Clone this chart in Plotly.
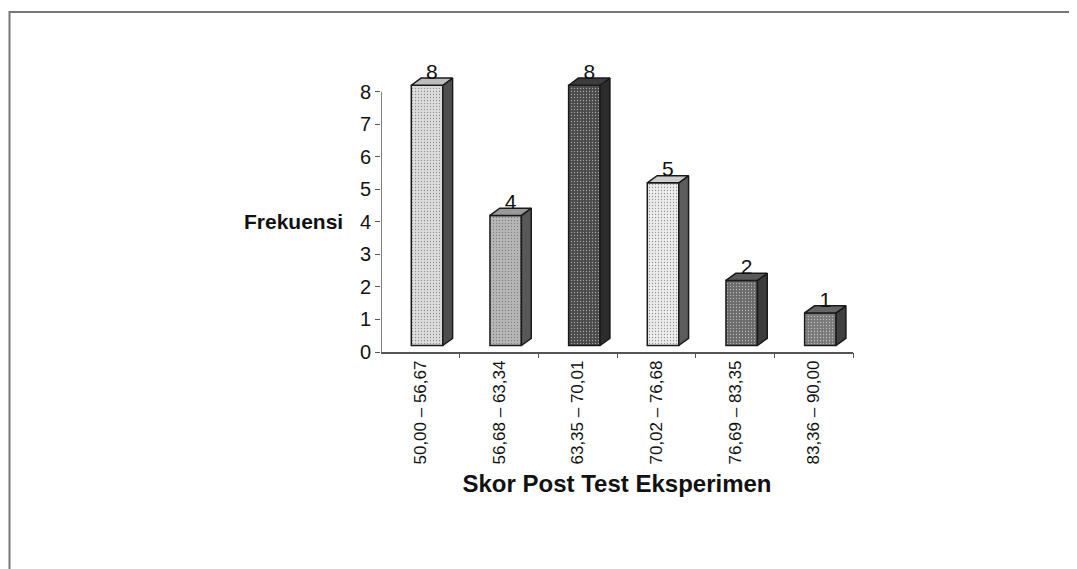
import plotly.graph_objects as go

# ---- data ----
categories = ["50,00 – 56,67", "56,68 – 63,34", "63,35 – 70,01",
              "70,02 – 76,68", "76,69 – 83,35", "83,36 – 90,00"]
frequencies = [8, 4, 8, 5, 2, 1]
y_ticks = [0, 1, 2, 3, 4, 5, 6, 7, 8]
x_title = "Skor Post Test Eksperimen"
y_title = "Frekuensi"

# ---- style ----
front_colors = ["#dcdcdc", "#b7b7b7", "#4a4a4a", "#ebebeb", "#6b6b6b", "#7a7a7a"]
side_colors = ["#4e4e4e", "#585858", "#2c2c2c", "#5c5c5c", "#3c3c3c", "#404040"]
top_colors = ["#bdbdbd", "#9a9a9a", "#3c3c3c", "#cdcdcd", "#5a5a5a", "#666666"]
FONT = "Liberation Sans, Arial, sans-serif"
BASE = 0.2          # floor offset of 3D bars
BAR_W = 0.40        # front face width (category units)
BAR_OFF = 0.585     # front face centre within category
DX, DY = 0.125, 0.22  # 3D depth offsets
OUT = "#1a1a1a"

W, H = 1069, 561
ML, MR, MT, MB = 373, 224, 61, 217
PW, PH = W - ML - MR, H - MT - MB

fig = go.Figure()

n = len(categories)
xc = [i + BAR_OFF for i in range(n)]

# front faces
fig.add_trace(go.Bar(
    x=xc, y=frequencies, base=[BASE] * n, width=BAR_W,
    marker=dict(color=front_colors, line=dict(color=OUT, width=1.5),
                pattern=dict(shape=".", size=3, solidity=0.15,
                             fgcolor="rgba(0,0,0,0.25)", fillmode="overlay")),
    hoverinfo="skip", showlegend=False))

# side and top faces computed from the values
for i, v in enumerate(frequencies):
    x0 = xc[i] - BAR_W / 2
    x1 = xc[i] + BAR_W / 2
    y0 = BASE
    y1 = BASE + v
    fig.add_trace(go.Scatter(
        x=[x1, x1 + DX, x1 + DX, x1, x1],
        y=[y0, y0 + DY, y1 + DY, y1, y0],
        fill="toself", fillcolor=side_colors[i], mode="lines",
        line=dict(color=OUT, width=1.5), hoverinfo="skip", showlegend=False))
    fig.add_trace(go.Scatter(
        x=[x0, x1, x1 + DX, x0 + DX, x0],
        y=[y1, y1, y1 + DY, y1 + DY, y1],
        fill="toself", fillcolor=top_colors[i], mode="lines",
        line=dict(color=OUT, width=1.5), hoverinfo="skip", showlegend=False))

# value labels
fig.add_trace(go.Scatter(
    x=[c + DX / 2 for c in xc],
    y=[BASE + v + DY + 0.14 for v in frequencies],
    mode="text", text=[str(v) for v in frequencies],
    textfont=dict(family=FONT, size=21, color="#111"),
    textposition="middle center", cliponaxis=False,
    hoverinfo="skip", showlegend=False))

# dummy trace for the tick-mark axis
fig.add_trace(go.Scatter(x=[0], y=[0], xaxis="x2", mode="markers",
                         marker=dict(opacity=0), hoverinfo="skip", showlegend=False))

fig.update_layout(
    width=W, height=H,
    margin=dict(l=ML, r=MR, t=MT, b=MB),
    paper_bgcolor="white", plot_bgcolor="white",
    xaxis=dict(range=[0, n], tickvals=[i + 0.5 for i in range(n)], ticktext=categories,
               tickangle=-90, ticks="", showgrid=False, zeroline=False,
               showline=True, linecolor="#555", linewidth=1.5,
               tickfont=dict(family=FONT, size=17, color="#111"),
               title=dict(text=f"<b>{x_title}</b>", standoff=12,
                          font=dict(family=FONT, size=24, color="#111"))),
    xaxis2=dict(range=[0, n], overlaying="x", anchor="y", side="bottom",
                tickvals=list(range(1, n + 1)), ticktext=[""] * n,
                ticks="outside", ticklen=5, tickwidth=1.2, tickcolor="#555",
                showgrid=False, zeroline=False, showline=False),
    yaxis=dict(range=[0, 8.7], tickvals=y_ticks, ticks="outside", ticklen=5,
               tickwidth=1.2, tickcolor="#555", showgrid=False, zeroline=False,
               showline=False, tickfont=dict(family=FONT, size=20, color="#111")),
    shapes=[
        dict(type="line", xref="x", yref="y", x0=0, x1=0, y0=0, y1=y_ticks[-1],
             line=dict(color="#555", width=1.5)),
        dict(type="rect", xref="paper", yref="paper",
             x0=(1.5 - ML) / PW, x1=1.5,
             y0=-1.5, y1=(MT + PH - 4) / PH, line=dict(color="#777", width=2),
             fillcolor="rgba(0,0,0,0)", layer="below"),
    ],
    annotations=[
        dict(text=f"<b>{y_title}</b>", xref="paper", yref="y", x=0, y=4,
             xanchor="right", yanchor="middle", xshift=-36, showarrow=False,
             font=dict(family=FONT, size=21, color="#111")),
    ],
)

fig.write_html("out.html")
